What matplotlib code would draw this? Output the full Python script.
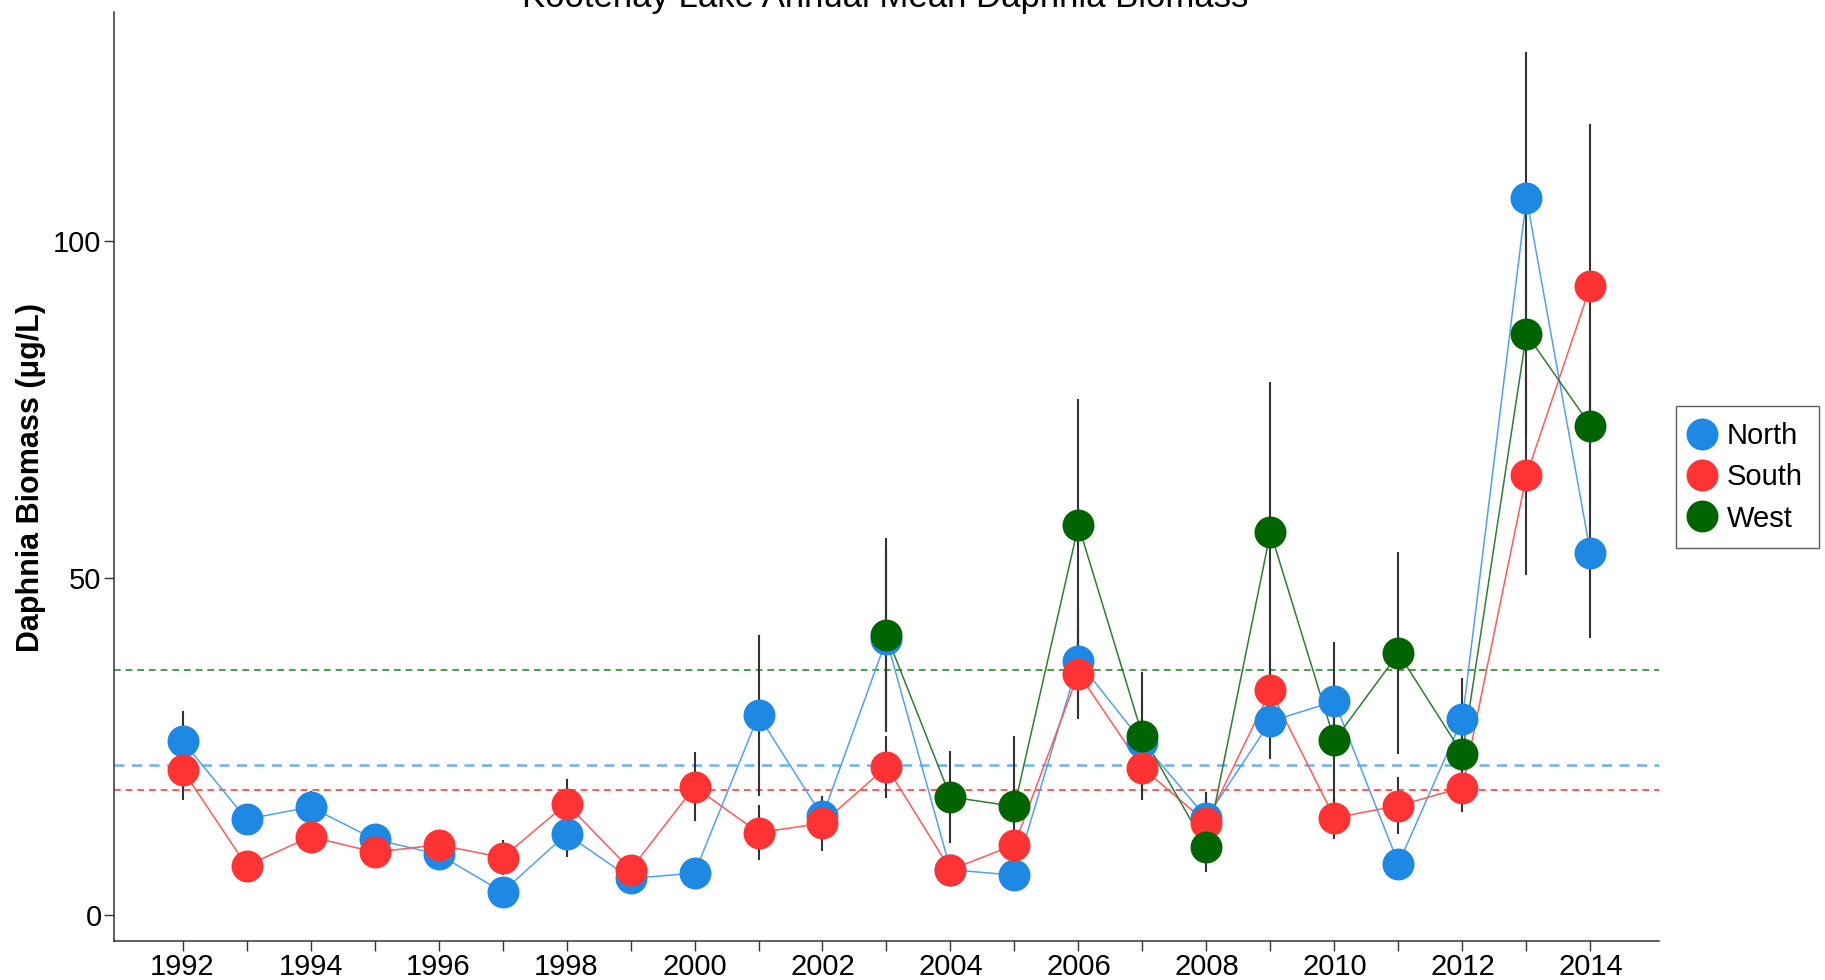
import matplotlib.pyplot as plt
import numpy as np

plt.rcParams['font.family'] = ['Liberation Sans', 'DejaVu Sans']

# Annual mean biomass (ug/L) and standard errors
years = np.arange(1992, 2015)
north = [25.8, 14.2, 16.0, 11.2, 9.0, 3.4, 12.0, 5.4, 6.2, 29.6, 14.6, 40.9,
         6.7, 5.9, 37.6, 25.6, 14.4, 28.7, 31.7, 7.6, 29.1, 106.4, 53.7]
north_se = [4.5, 1.5, 2.4, 1.5, 1.5, 1.5, 3.4, 1.2, 1.5, 11.9, 3.0, 13.5,
            1.5, 1.5, 8.0, 6.0, 3.0, 5.5, 8.8, 2.0, 6.0, 21.7, 12.6]
south = [21.5, 7.3, 11.6, 9.3, 10.4, 8.5, 16.5, 6.7, 19.0, 12.2, 13.6, 22.0,
         6.7, 10.4, 35.8, 21.8, 13.7, 33.3, 14.4, 16.2, 18.9, 65.2, 93.3]
south_se = [4.4, 1.2, 1.5, 1.5, 1.5, 2.6, 3.6, 1.2, 5.1, 4.1, 4.1, 4.6,
            1.5, 1.8, 6.8, 4.7, 4.6, 5.0, 3.1, 4.2, 3.7, 14.7, 24.0]
west_years = np.arange(2003, 2015)
west = [41.5, 17.5, 16.1, 57.8, 26.6, 10.0, 56.8, 25.9, 38.8, 23.9, 86.2, 72.6]
west_se = [14.4, 6.8, 10.5, 18.7, 9.5, 3.6, 22.2, 9.0, 15.0, 4.0, 15.0, 12.0]

# long-term reference levels (dashed lines)
ref_levels = {'North': 22.3, 'South': 18.6, 'West': 36.3}

colors = {'North': '#1E88E5', 'South': '#FF3333', 'West': '#006400'}
line_colors = {'North': '#4DA3F0', 'South': '#FF5A5A', 'West': '#2E7D32'}
ref_colors = {'North': '#66B2FF', 'South': '#FF4040', 'West': '#2E8B2E'}

series = [
    ('North', years, north, north_se),
    ('South', years, south, south_se),
    ('West', west_years, west, west_se),
]

fig = plt.figure(figsize=(18.25, 9.8), dpi=100)
ax = fig.add_axes([0.0625, 0.0403, 0.8465, 0.9477])

for name, x, y, se in series:
    ax.errorbar(x, y, yerr=se, fmt='none', ecolor='#333333', elinewidth=1.5,
                capsize=0, zorder=2)

for name, _, _, _ in series:
    lw = 1.8 if name == 'North' else 1.2
    ax.axhline(ref_levels[name], color=ref_colors[name], lw=lw,
               ls=(0, (4, 3)), zorder=1)

for name, x, y, se in series:
    ax.plot(x, y, color=line_colors[name], lw=1.1, zorder=3)

for name, x, y, se in series:
    ax.plot(x, y, ls='none', marker='o', ms=23, mew=0,
            color=colors[name], label=name, zorder=4)

ax.set_xlim(1990.93, 2015.07)
ax.set_ylim(-3.8, 134)
ax.set_xticks(years[::2])
ax.set_xticks(years[1::2], minor=True)
ax.set_yticks([0, 50, 100])

for s in ['top', 'right']:
    ax.spines[s].set_visible(False)
for s in ['left', 'bottom']:
    ax.spines[s].set_color('#333333')
    ax.spines[s].set_linewidth(1.1)

ax.tick_params(which='both', direction='out', length=7, width=1,
               color='#333333', labelsize=21, pad=2)

fig.text(31 / 1825, 0.513, 'Daphnia Biomass (\u03bcg/L)', rotation=90,
         ha='center', va='center', fontsize=22, fontweight='bold')
fig.text(885 / 1825, 1 - 7 / 980, 'Kootenay Lake Annual Mean Daphnia Biomass',
         ha='center', va='baseline', fontsize=25)

leg = ax.legend(loc='upper left', bbox_to_anchor=(1676 / 1825, 1 - 406 / 980),
                bbox_transform=fig.transFigure, fontsize=21, frameon=True,
                fancybox=False, borderaxespad=0, borderpad=0.54,
                handlelength=0.72, handletextpad=0.49, labelspacing=0.46)
leg.get_frame().set_edgecolor('#333333')
leg.get_frame().set_linewidth(1.0)

plt.savefig('out.png', dpi=100)
